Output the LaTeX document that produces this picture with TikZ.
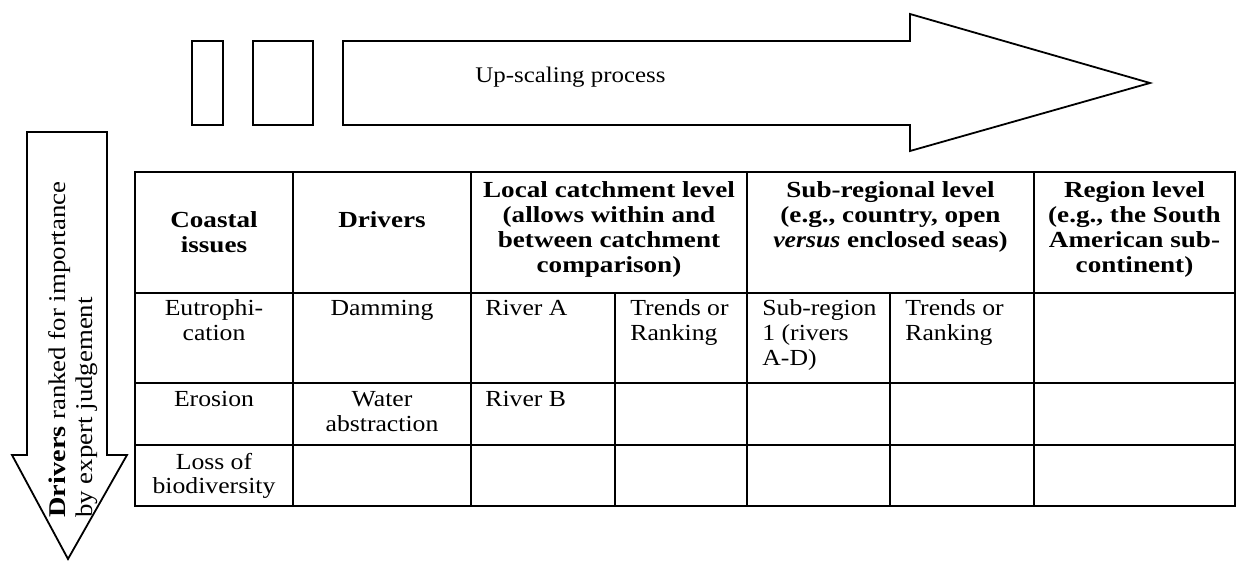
\documentclass[tikz,border=0pt]{standalone}
\usepackage{fontspec}
\setmainfont{Liberation Serif}[FakeStretch=1.117,BoldFeatures={FakeStretch=1.18}]
% multi-line cell text whose baseline is that of its first line
\newcommand\celltext[2]{\begin{tabular}[t]{@{}#1@{}}#2\end{tabular}}
\begin{document}
\begin{tikzpicture}[x=0.5pt,y=-0.5pt,
  txt/.style={inner sep=0pt,font=\fontsize{11.5pt}{12.4pt}\selectfont},
  ctxt/.style={txt,anchor=base},
  ltxt/.style={txt,anchor=base west},
  hdr/.style={ctxt,font=\fontsize{11.5pt}{12.4pt}\selectfont\bfseries},
  outline/.style={draw=black,line width=0.9pt,line join=miter},
  grid/.style={draw=black,line width=0.6pt}]
\useasboundingbox (0,0) rectangle (1238,561);

% small boxes and the up-scaling arrow
\draw[outline] (192,41) rectangle (223,125);
\draw[outline] (253,41) rectangle (313,125);
\draw[outline] (343,41) -- (910,41) -- (910,14) -- (1150,83) -- (910,151)
  -- (910,125) -- (343,125) -- cycle;
\node[txt,anchor=base west,font=\fontsize{11.15pt}{12pt}\selectfont] (up) at (475,83) {Up-scaling process};

% downward arrow with its rotated label
\draw[outline] (27,132) -- (107,132) -- (107,455) -- (127,455) -- (68,559)
  -- (12,455) -- (27,455) -- cycle;
\node[txt,rotate=90,anchor=base west,font=\fontsize{12pt}{13.5pt}\selectfont] (rank) at (65,518)
  {\celltext{l}{\textbf{Drivers} ranked for importance\\by expert judgement}};

% table grid
\draw[grid] (135,172) rectangle (1235,506);
\foreach \y in {293,383,445} \draw[grid] (135,\y) -- (1235,\y);
\foreach \x in {293,471,747,1034} \draw[grid] (\x,172) -- (\x,506);
\foreach \x in {615,890} \draw[grid] (\x,293) -- (\x,506);

% header row
\node[hdr] (h1) at (214,228) {\celltext{c}{Coastal\\issues}};
\node[hdr] (h2) at (382,228) {Drivers};
\node[hdr] (h3) at (609,198) {\celltext{c}{Local catchment level\\(allows within and\\between catchment\\comparison)}};
\node[hdr] (h4) at (890.5,198) {\celltext{c}{Sub-regional level\\(e.g., country, open\\\textit{versus} enclosed seas)}};
\node[hdr] (h5) at (1134.5,198) {\celltext{c}{Region level\\(e.g., the South\\American sub-\\continent)}};

% first row
\node[ctxt] (r1a) at (214,316) {\celltext{c}{Eutrophi-\\cation}};
\node[ctxt] (r1b) at (382,316) {Damming};
\node[ltxt] (r1c) at (485,316) {River A};
\node[ltxt] (r1d) at (630,316) {\celltext{l}{Trends or\\Ranking}};
\node[ltxt] (r1e) at (762,316) {\celltext{l}{Sub-region\\1 (rivers\\A-D)}};
\node[ltxt] (r1f) at (905,316) {\celltext{l}{Trends or\\Ranking}};

% second row
\node[ctxt] (r2a) at (214,407) {Erosion};
\node[ctxt] (r2b) at (382,407) {\celltext{c}{Water\\abstraction}};
\node[ltxt] (r2c) at (485,407) {River B};

% third row
\node[ctxt] (r3a) at (214,469) {\celltext{c}{Loss of\\biodiversity}};
\end{tikzpicture}
\end{document}
